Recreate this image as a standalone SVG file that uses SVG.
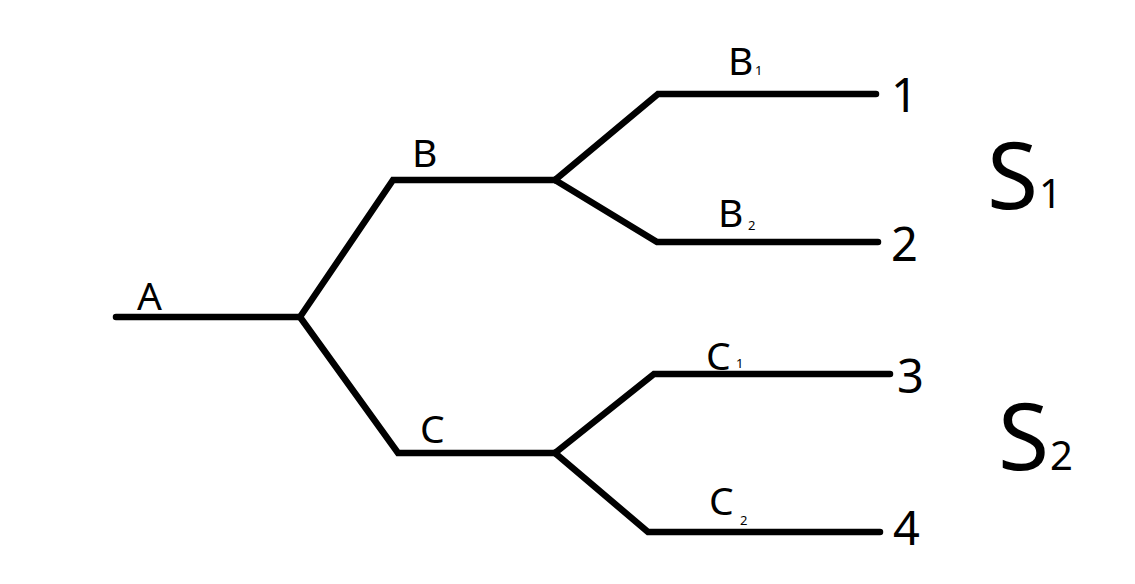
<svg xmlns="http://www.w3.org/2000/svg" width="1135" height="584" viewBox="0 0 1135 584">
<style>
.e{fill:none;stroke:#000;stroke-width:6.5;stroke-linecap:round;stroke-linejoin:miter}
text{font-family:"Noto Sans","Open Sans",sans-serif;fill:#000}
.l{font-size:39px}
.s{font-size:13px}
.n{font-size:47px}
.b{font-size:93px}
.bs{font-size:40px}
</style>
<rect width="1135" height="584" fill="#fff"/>
<g id="connectors">
<path class="e" d="M116 317 H300"/>
<path class="e" d="M300 317 L393 180 H555"/>
<path class="e" d="M300 317 L398 453 H555"/>
<path class="e" d="M555 180 L658 94 H876"/>
<path class="e" d="M555 180 L657 242 H878"/>
<path class="e" d="M555 453 L654 374 H890"/>
<path class="e" d="M555 453 L648 532 H880"/>
</g>
<g id="A"><text class="l" x="137" y="310">A</text></g>
<g id="B"><text class="l" x="412" y="167">B</text></g>
<g id="C"><text class="l" x="420" y="443">C</text></g>
<g id="B1"><text class="l" x="728" y="75">B</text><text class="s" x="755" y="75">1</text></g>
<g id="B2"><text class="l" x="718" y="227">B</text><text class="s" x="748" y="230">2</text></g>
<g id="C1"><text class="l" x="706" y="370">C</text><text class="s" x="736" y="368">1</text></g>
<g id="C2"><text class="l" x="709" y="515">C</text><text class="s" x="740" y="525">2</text></g>
<g id="n1"><text class="n" x="891" y="112">1</text></g>
<g id="n2"><text class="n" x="891" y="261">2</text></g>
<g id="n3"><text class="n" x="897" y="393">3</text></g>
<g id="n4"><text class="n" x="893" y="545">4</text></g>
<g id="S1"><text class="b" x="987" y="209">S</text><text class="bs" x="1039" y="208">1</text></g>
<g id="S2"><text class="b" x="998" y="470">S</text><text class="bs" x="1050" y="470">2</text></g>
</svg>
